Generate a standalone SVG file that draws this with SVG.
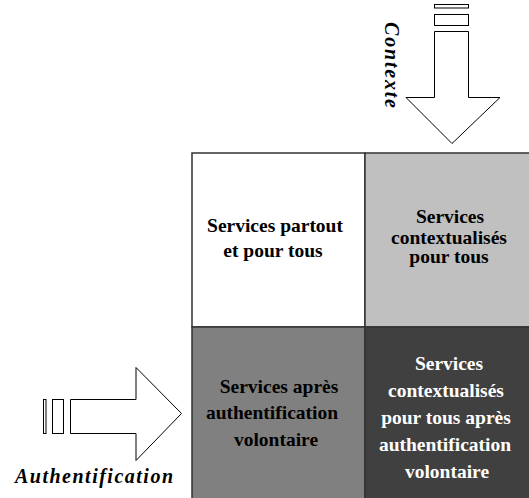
<svg xmlns="http://www.w3.org/2000/svg" width="529" height="498" viewBox="0 0 529 498">
<style>
.cell{stroke:#333;stroke-width:1.5}
.arr{fill:#fff;stroke:#000;stroke-width:1}
</style>
<rect width="529" height="498" fill="#fff"/>
<g font-family="Liberation Serif, Times New Roman, DejaVu Serif, serif" font-weight="bold" font-size="19.5" text-anchor="middle">
<g id="q-tl"><rect class="cell" x="192" y="153" width="173" height="174" fill="#fff"/>
<text x="275" y="232">Services partout</text>
<text x="273" y="257">et pour tous</text></g>
<g id="q-tr"><rect class="cell" x="365" y="153" width="166" height="174" fill="#c0c0c0"/>
<text x="450" y="223">Services</text>
<text x="449" y="244">contextualisés</text>
<text x="449" y="263">pour tous</text></g>
<g id="q-bl"><rect class="cell" x="192" y="327" width="173" height="173" fill="#808080"/>
<text x="279" y="393">Services après</text>
<text x="272" y="419">authentification</text>
<text x="276" y="446">volontaire</text></g>
<g id="q-br"><rect class="cell" x="365" y="327" width="166" height="173" fill="#404040"/>
<g fill="#fff"><text x="449" y="370">Services</text>
<text x="446" y="397">contextualisés</text>
<text x="446" y="424">pour tous après</text>
<text x="445" y="451">authentification</text>
<text x="447" y="478">volontaire</text></g></g>
</g>
<g id="connectors" font-family="Liberation Serif, Times New Roman, DejaVu Serif, serif" font-weight="bold" font-style="italic" font-size="20">
<g id="arrow-contexte">
<rect class="arr" x="434.5" y="4.5" width="34" height="3.5"/>
<rect class="arr" x="434.5" y="14.5" width="34" height="11"/>
<path class="arr" d="M434.5 31.5 H468.5 V97.5 H500 L452 143.5 L406 97.5 H434.5 Z"/>
<text transform="translate(385 22) rotate(90)" textLength="86" lengthAdjust="spacing">Contexte</text>
</g>
<g id="arrow-auth">
<rect class="arr" x="43.5" y="399.5" width="2.5" height="34"/>
<rect class="arr" x="52.5" y="399.5" width="11" height="34"/>
<path class="arr" d="M70.5 399.5 V433.5 H136 V460.5 L181.5 413.5 L136 367.5 V399.5 Z"/>
<text x="15" y="483" textLength="158" lengthAdjust="spacing">Authentification</text>
</g>
</g>
</svg>
